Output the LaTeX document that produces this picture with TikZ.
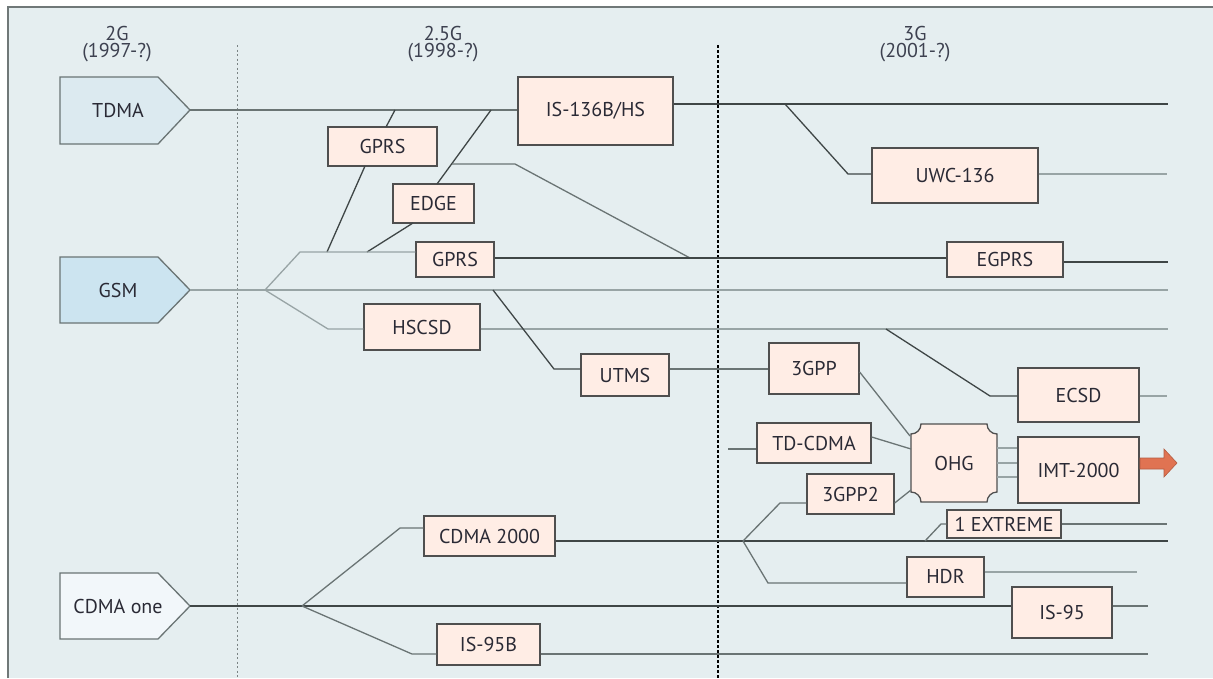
\documentclass[tikz,border=0pt]{standalone}
\usepackage{fontspec}
\setmainfont{PT Sans}
\definecolor{bg}{HTML}{E5EEF0}
\definecolor{boxf}{HTML}{FFEDE5}
\definecolor{boxb}{HTML}{4F4F4F}
\definecolor{tdmaf}{HTML}{DCEAF0}
\definecolor{gsmf}{HTML}{CCE4F0}
\definecolor{cdmaf}{HTML}{F2F7FA}
\definecolor{lnlc}{HTML}{98A4A5}
\definecolor{lnmc}{HTML}{6A7474}
\definecolor{lndc}{HTML}{3F4646}
\definecolor{txt}{HTML}{2A2A35}
\definecolor{hdr}{HTML}{3D4150}
\definecolor{arr}{HTML}{E07352}
\definecolor{framec}{HTML}{707878}
\begin{document}
\begin{tikzpicture}[x=1pt,y=-1pt,
  lnl/.style={draw=lnlc, line width=1.3pt},
  lnm/.style={draw=lnmc, line width=1.3pt},
  lnd/.style={draw=lndc, line width=1.3pt},
  box/.style={draw=boxb, fill=boxf, line width=1.3pt, inner sep=0pt,
    font=\fontsize{20}{24}\selectfont, text=txt},
  pent/.style={draw=lnmc, line width=1.3pt},
  plabel/.style={font=\fontsize{20}{24}\selectfont, text=txt},
  head/.style={font=\fontsize{20}{20}\selectfont, text=hdr, inner sep=0pt}
]
\useasboundingbox (0,0) rectangle (1213,678);
\fill[white] (0,0) rectangle (1213,678);
\fill[bg] (8,7) rectangle (1213,678);
\draw[framec, line width=1.5pt] (8,678) -- (8,7) -- (1213,7);

% headers
\node[head] (h2) at (117,33) {2G};
\node[head] (h2y) at (117,53) {(1997-?)};
\node[head] (h25) at (443,33) {2.5G};
\node[head] (h25y) at (443,53) {(1998-?)};
\node[head] (h3) at (915,33) {3G};
\node[head] (h3y) at (915,53) {(2001-?)};

% era separators
\draw[lnlc!80!black, line width=1pt, dash pattern=on 2pt off 2.5pt] (237,45) -- (237,678);
\draw[black, line width=1.4pt, dash pattern=on 3pt off 2pt] (718,45) -- (718,678);

% origin technologies
\draw[pent, fill=tdmaf] (60,77) -- (158,77) -- (190,110) -- (158,144) -- (60,144) -- cycle;
\node[plabel] (tdma) at (118,110) {TDMA};
\coordinate (tdmat) at (190,110);
\draw[pent, fill=gsmf] (60,257) -- (158,257) -- (190,290) -- (158,323) -- (60,323) -- cycle;
\node[plabel] (gsm) at (118,290) {GSM};
\coordinate (gsmt) at (190,290);
\draw[pent, fill=cdmaf] (60,573) -- (158,573) -- (190,606) -- (158,639) -- (60,639) -- cycle;
\node[plabel] (cdmaone) at (118,606) {CDMA one};
\coordinate (cdmat) at (190,606);

% boxes
\node[box, minimum width=155pt, minimum height=68pt] (is136) at (595.5,111) {IS-136B/HS};
\node[box, minimum width=109pt, minimum height=39pt] (gprsa) at (382.5,146.5) {GPRS};
\node[box, minimum width=81pt, minimum height=39pt] (edge) at (433.5,203.5) {EDGE};
\node[box, minimum width=78pt, minimum height=35pt] (gprsb) at (455,259.5) {GPRS};
\node[box, minimum width=116pt, minimum height=35pt] (egprs) at (1005,259.5) {EGPRS};
\node[box, minimum width=166pt, minimum height=55pt] (uwc) at (955,175.5) {UWC-136};
\node[box, minimum width=116pt, minimum height=46pt] (hscsd) at (422,327) {HSCSD};
\node[box, minimum width=88pt, minimum height=42pt] (utms) at (625,375) {UTMS};
\node[box, minimum width=90pt, minimum height=51pt] (tgpp) at (814,368.5) {3GPP};
\node[box, minimum width=121pt, minimum height=54pt] (ecsd) at (1078.5,395) {ECSD};
\node[box, minimum width=114pt, minimum height=40pt] (tdcdma) at (814,443) {TD-CDMA};
\node[box, minimum width=87pt, minimum height=40pt] (tgpp2) at (850.5,494) {3GPP2};
\node[box, minimum width=121pt, minimum height=66pt] (imt) at (1078.5,470) {IMT-2000};
\node[box, minimum width=114pt, minimum height=28pt] (ext) at (1004,524) {1 EXTREME};
\node[box, minimum width=131pt, minimum height=40pt] (cdma2k) at (489.5,536) {CDMA 2000};
\node[box, minimum width=77pt, minimum height=40pt] (hdrb) at (945.5,577) {HDR};
\node[box, minimum width=100pt, minimum height=51pt] (isnf) at (1062,612.5) {IS-95};
\node[box, minimum width=103pt, minimum height=41pt] (isnfb) at (488.5,644.5) {IS-95B};

% OHG
\draw[boxb, fill=boxf, line width=1.3pt] (921,424) -- (987,424)
  arc[start angle=180, end angle=90, radius=10] -- (997,492)
  arc[start angle=270, end angle=180, radius=10] -- (921,502)
  arc[start angle=0, end angle=-90, radius=10] -- (911,434)
  arc[start angle=90, end angle=0, radius=10] -- cycle;
\node[plabel] (ohg) at (954,463) {OHG};
\coordinate (ohga) at (910,436);
\coordinate (ohgb) at (911,449);
\coordinate (ohgc) at (911,490);

% end points
\coordinate (eR1) at (1168,104);
\coordinate (eR2) at (1167,174);
\coordinate (eR3) at (1168,262);
\coordinate (eR4) at (1168,290);
\coordinate (eR5) at (1168,329);
\coordinate (eR6) at (1167,396);
\coordinate (eR7) at (1167,524);
\coordinate (eR8) at (1168,541);
\coordinate (eR9) at (1137,572);
\coordinate (eR10) at (1148,606);
\coordinate (eR11) at (1148,654);
\coordinate (tdin) at (728,449);

% TDMA family
\draw[lnm] (tdmat) -- (is136.west |- 0,110);
\draw[lnd] (is136.east |- 0,104) -- (eR1);
\draw[lnd] (gprsa.north |- 0,127) ++(3.5,0) -- (395,110);
\draw[lnd] (365,166) -- (327,252);
\draw[lnd] (437,184) -- (491,110);
\draw[lnd] (413,223) -- (367,252);
\draw[lnm] (452,164) -- (515,164) -- (690,258);
\draw[lnd] (785,104) -- (848,174) -- (uwc.west |- 0,174);
\draw[lnl] (uwc.east |- 0,174) -- (eR2);

% GSM family
\draw[lnl] (gsmt) -- (eR4);
\draw[lnl] (265,290) -- (300,252) -- (gprsb.west |- 0,252);
\draw[lnl] (265,290) -- (328,329) -- (hscsd.west |- 0,329);
\draw[lnl] (hscsd.east |- 0,329) -- (eR5);
\draw[lnd] (gprsb.east |- 0,258) -- (egprs.west |- 0,258);
\draw[lndc, line width=1.6pt] (egprs.east |- 0,262) -- (eR3);
\draw[lnd] (493,290) -- (554,369) -- (utms.west |- 0,369);
\draw[lnm] (utms.east |- 0,369) -- (tgpp.west |- 0,369);
\draw[lnd] (886,329) -- (990,396) -- (ecsd.west |- 0,396);
\draw[lnl] (ecsd.east |- 0,396) -- (eR6);

% convergence to OHG
\draw[lnm] (tgpp.east |- 0,372) -- (ohga);
\draw[lnm] (tdin) -- (tdcdma.west |- 0,449);
\draw[lnm] (tdcdma.east |- 0,437) -- (ohgb);
\draw[lnm] (tgpp2.east |- 0,503) -- (ohgc);
\draw[lnl] (997,448) -- (imt.west |- 0,448);
\draw[lnl] (997,463) -- (imt.west |- 0,463);
\draw[lnl] (997,477) -- (imt.west |- 0,477);
\fill[arr, draw=arr!80!black, line width=0.6pt] (1140,458) -- (1164,458) -- (1164,449) -- (1177,463)
  -- (1164,477) -- (1164,469) -- (1140,469) -- cycle;

% CDMA family
\draw[lnd] (cdmat) -- (isnf.west |- 0,606);
\draw[lnm] (isnf.east |- 0,606) -- (eR10);
\draw[lnm] (302,606) -- (400,528) -- (cdma2k.west |- 0,528);
\draw[lndc, line width=1.6pt] (cdma2k.east |- 0,541) -- (eR8);
\draw[lnm] (302,606) -- (412,654) -- (isnfb.west |- 0,654);
\draw[lnm] (isnfb.east |- 0,654) -- (eR11);
\draw[lnm] (743,541) -- (780,503) -- (tgpp2.west |- 0,503);
\draw[lnm] (743,541) -- (768,583) -- (hdrb.west |- 0,583);
\draw[lnl] (hdrb.east |- 0,572) -- (eR9);
\draw[lnm] (925,541) -- (941,524) -- (ext.west);
\draw[lnm] (ext.east) -- (eR7);
\end{tikzpicture}
\end{document}
